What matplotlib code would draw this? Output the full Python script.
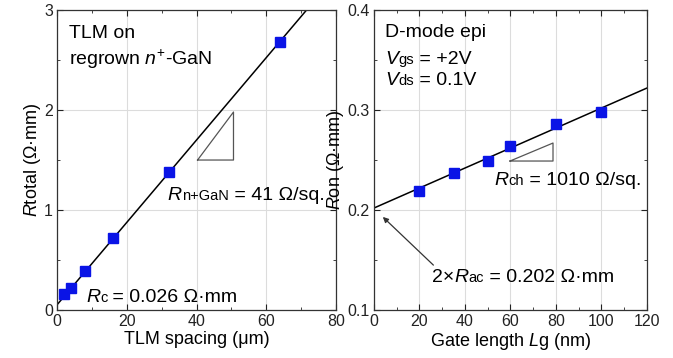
import numpy as np
import matplotlib
matplotlib.use("Agg")
import matplotlib.pyplot as plt

plt.rcParams['font.family'] = ['Liberation Sans', 'DejaVu Sans']
plt.rcParams['mathtext.fontset'] = 'custom'
plt.rcParams['mathtext.rm'] = 'Liberation Sans'
plt.rcParams['mathtext.it'] = 'Liberation Sans:italic'

# TLM data (left)
tlm_spacing = [2, 4, 8, 16, 32, 64]
r_total = [0.16, 0.22, 0.39, 0.72, 1.38, 2.68]
tlm_intercept = 0.052
tlm_slope = 0.0412

# gate length data (right)
gate_length = [20, 35, 50, 60, 80, 100]
r_on = [0.219, 0.237, 0.249, 0.264, 0.286, 0.298]
ron_intercept = 0.202
ron_slope = 0.001

BIG = 14
SMALL = 10.5
LABEL = 13


def rich(ax, x, y, parts):
    """Draw a row of text pieces one after another on a common baseline.
    parts: list of (string, size, italic)."""
    prev = None
    for s, size, it in parts:
        style = 'italic' if it else 'normal'
        if prev is None:
            prev = ax.text(x, y, s, fontsize=size, fontstyle=style,
                           va='baseline', ha='left')
        else:
            prev = ax.annotate(s, xy=(1, y), xycoords=(prev, 'data'),
                               fontsize=size, fontstyle=style,
                               va='baseline', ha='left')
    return prev


fig = plt.figure(figsize=(6.73, 3.58), dpi=100)
ax1 = fig.add_axes([0.0847, 0.134, 0.4146, 0.838])
ax2 = fig.add_axes([0.5557, 0.134, 0.4056, 0.838])

blue = '#0a14e6'
for ax in (ax1, ax2):
    ax.grid(True, color='#dcdcdc', linewidth=0.8)
    ax.set_axisbelow(True)
    ax.tick_params(which='both', direction='in', top=True, right=True,
                   labelsize=11.5, colors='#222222', pad=3)
    ax.tick_params(which='major', length=4)
    ax.tick_params(which='minor', length=2)
    for s in ax.spines.values():
        s.set_linewidth(0.9)
        s.set_color('#333333')

# left panel
xf = np.linspace(0, 80, 50)
ax1.plot(xf, tlm_intercept + tlm_slope * xf, color='black', lw=1.1)
ax1.plot(tlm_spacing, r_total, 's', color=blue, ms=6.5, zorder=3)
ax1.plot([40.3, 50.6, 50.6, 40.3], [1.5, 1.5, 1.98, 1.5], color='#555555', lw=0.9)
ax1.set_xlim(0, 80)
ax1.set_ylim(0, 3)
ax1.set_xticks([0, 20, 40, 60, 80])
ax1.set_xticks(np.arange(10, 80, 20), minor=True)
ax1.set_yticks([0, 1, 2, 3])
ax1.set_yticks([0.5, 1.5, 2.5], minor=True)
ax1.set_xlabel('TLM spacing (μm)', fontsize=LABEL, labelpad=1)
ax1.set_ylabel(r'$\mathit{R}$total (Ω·mm)', fontsize=LABEL, labelpad=1)
ax1.text(3.5, 2.72, 'TLM on', fontsize=BIG, va='baseline')
ax1.text(3.5, 2.45, r'regrown $\mathit{n}^{+}$-GaN', fontsize=BIG, va='baseline')
rich(ax1, 31.7, 1.10, [('R', BIG, True), ('n+GaN', SMALL, False),
                       (' = 41 Ω/sq.', BIG, False)])
rich(ax1, 8.3, 0.08, [('R', BIG, True), ('c', SMALL, False),
                      (' = 0.026 Ω·mm', BIG, False)])

# right panel
xg = np.linspace(0, 120, 50)
ax2.plot(xg, ron_intercept + ron_slope * xg, color='black', lw=1.1)
ax2.plot(gate_length, r_on, 's', color=blue, ms=6.5, zorder=3)
ax2.plot([59.8, 78.7, 78.7, 59.8], [0.249, 0.249, 0.267, 0.249], color='#555555', lw=0.9)
ax2.annotate('', xy=(3, 0.195), xytext=(27, 0.143),
             arrowprops=dict(arrowstyle='-|>', color='#333333', lw=0.9,
                             mutation_scale=8))
ax2.set_xlim(0, 120)
ax2.set_ylim(0.1, 0.4)
ax2.set_xticks([0, 20, 40, 60, 80, 100, 120])
ax2.set_xticks(np.arange(10, 120, 20), minor=True)
ax2.set_yticks([0.1, 0.2, 0.3, 0.4])
ax2.set_yticks([0.15, 0.25, 0.35], minor=True)
ax2.set_xlabel(r'Gate length $\mathit{L}$g (nm)', fontsize=LABEL, labelpad=1)
ax2.set_ylabel(r'$\mathit{R}$on (Ω·mm)', fontsize=LABEL, labelpad=1)
ax2.text(4.8, 0.373, 'D-mode epi', fontsize=BIG, va='baseline')
rich(ax2, 4.8, 0.346, [('V', BIG, True), ('gs', SMALL, False),
                       (' = +2V', BIG, False)])
rich(ax2, 4.8, 0.325, [('V', BIG, True), ('ds', SMALL, False),
                       (' = 0.1V', BIG, False)])
rich(ax2, 53, 0.225, [('R', BIG, True), ('ch', SMALL, False),
                      (' = 1010 Ω/sq.', BIG, False)])
rich(ax2, 25.5, 0.128, [('2×', BIG, False), ('R', BIG, True), ('ac', SMALL, False),
                        (' = 0.202 Ω·mm', BIG, False)])

fig.savefig('out.png', dpi=100)
